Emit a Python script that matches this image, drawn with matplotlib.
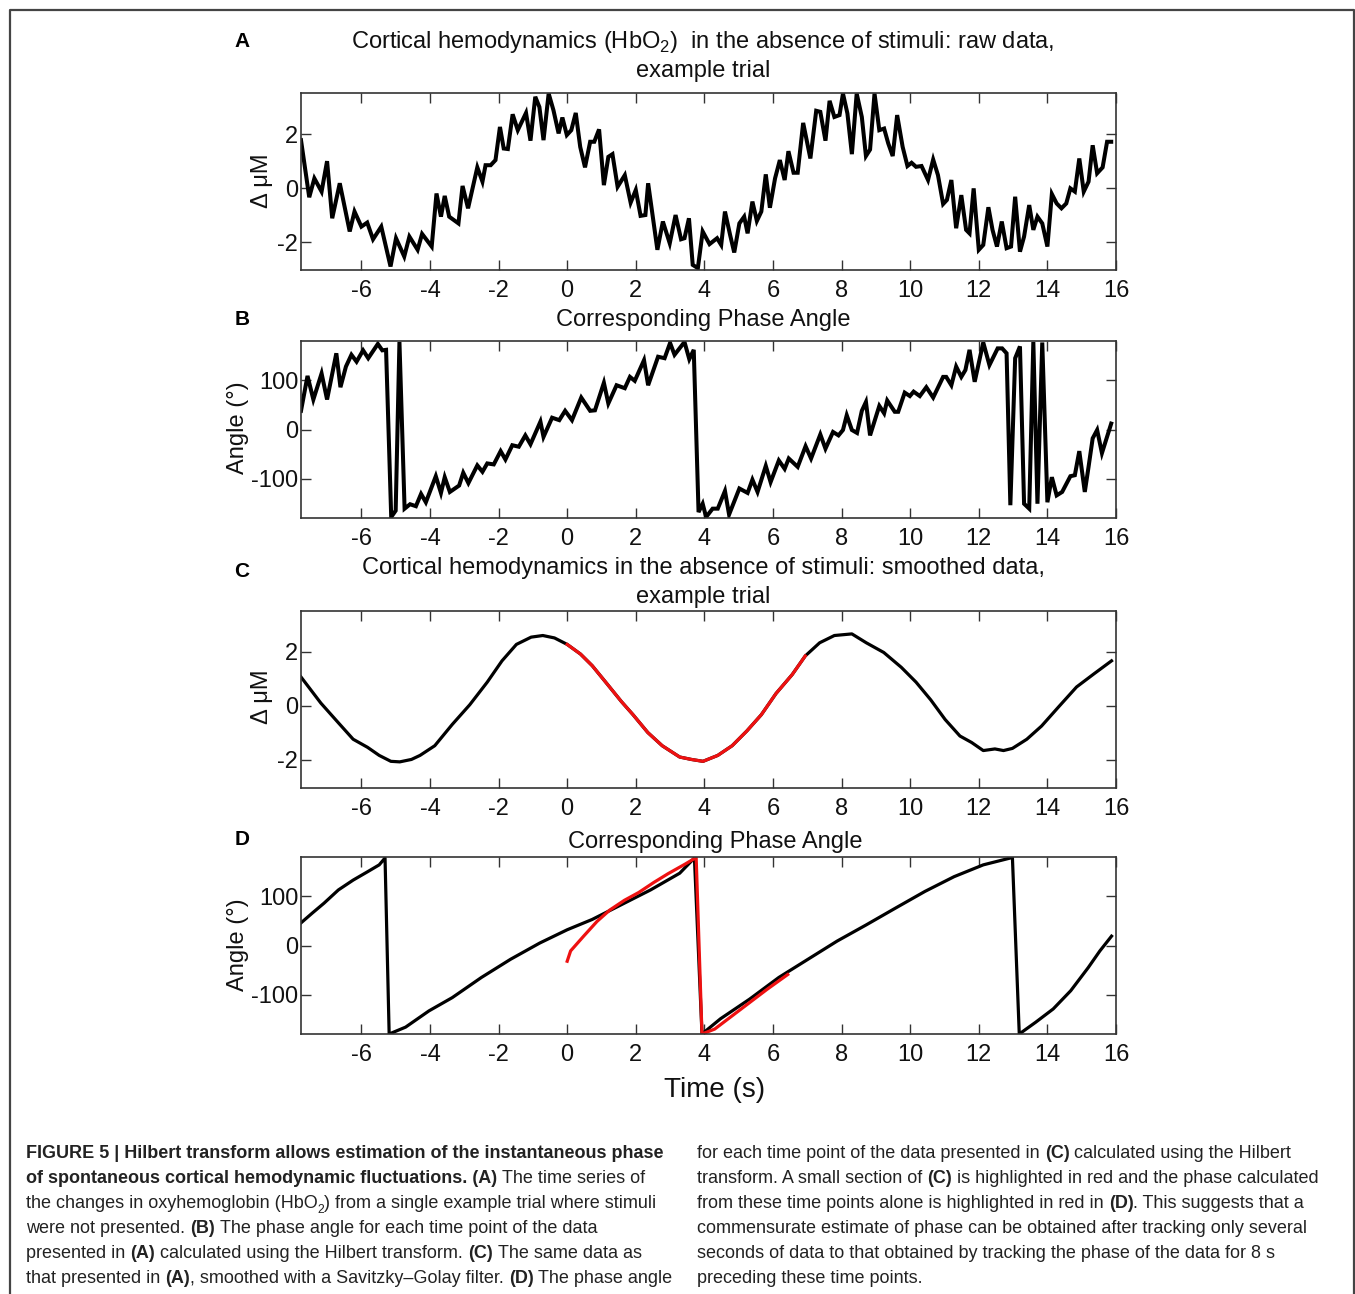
import matplotlib
matplotlib.use('Agg')
import matplotlib.pyplot as plt
from matplotlib.lines import Line2D

plt.rcParams['font.family'] = ['Liberation Sans', 'DejaVu Sans']
plt.rcParams['axes.unicode_minus'] = False
plt.rcParams['mathtext.fontset'] = 'custom'
plt.rcParams['mathtext.rm'] = 'Liberation Sans'

# (A) raw HbO2 trace: time (s), delta uM
raw_t = [-7.76, -7.52, -7.37, -7.16, -7.0, -6.85, -6.63, -6.34, -6.2, -6.0,
         -5.83, -5.66, -5.42, -5.15, -4.99, -4.75, -4.6, -4.36, -4.23, -3.95,
         -3.81, -3.68, -3.57, -3.44, -3.17, -3.05, -2.89, -2.62, -2.47, -2.38,
         -2.23, -2.09, -1.96, -1.85, -1.73, -1.59, -1.44, -1.2, -1.07, -0.93,
         -0.81, -0.69, -0.54, -0.4, -0.25, -0.14, -0.01, 0.12, 0.25, 0.38,
         0.52, 0.67, 0.79, 0.93, 1.07, 1.2, 1.32, 1.47, 1.68, 1.85,
         2.0, 2.14, 2.28, 2.36, 2.63, 2.79, 2.99, 3.16, 3.32, 3.42,
         3.55, 3.66, 3.81, 3.95, 4.15, 4.37, 4.49, 4.6, 4.75, 4.87,
         5.02, 5.16, 5.26, 5.4, 5.53, 5.66, 5.79, 5.91, 6.06, 6.2,
         6.34, 6.45, 6.6, 6.72, 6.88, 7.09, 7.26, 7.38, 7.53, 7.65,
         7.79, 7.94, 8.04, 8.17, 8.3, 8.44, 8.59, 8.71, 8.83, 8.96,
         9.1, 9.24, 9.36, 9.49, 9.62, 9.78, 9.92, 10.04, 10.17, 10.33,
         10.52, 10.67, 10.81, 10.96, 11.07, 11.2, 11.34, 11.49, 11.63, 11.73,
         11.85, 12.0, 12.13, 12.28, 12.4, 12.53, 12.67, 12.81, 12.94, 13.06,
         13.2, 13.32, 13.47, 13.59, 13.71, 13.85, 14.0, 14.13, 14.27, 14.41,
         14.55, 14.67, 14.8, 14.93, 15.06, 15.2, 15.32, 15.45, 15.61, 15.74,
         15.86]
raw_um = [1.79, -0.33, 0.37, -0.12, 1.01, -1.11, 0.19, -1.6, -0.86, -1.42,
          -1.27, -1.89, -1.42, -2.9, -1.85, -2.53, -1.79, -2.28, -1.69, -2.16,
          -0.19, -1.05, -0.28, -1.05, -1.3, 0.09, -0.74, 0.78, 0.25, 0.86,
          0.86, 1.05, 2.28, 1.48, 1.46, 2.75, 2.16, 2.8, 1.77, 3.4,
          3.02, 1.79, 3.52, 2.9, 2.04, 2.63, 1.98, 2.16, 2.8, 1.54,
          0.78, 1.73, 1.73, 2.19, 0.12, 1.17, 1.27, 0.06, 0.49, -0.53,
          -0.06, -1.02, -0.99, 0.19, -2.28, -1.23, -2.04, -0.99, -1.89, -1.85,
          -1.11, -2.84, -2.96, -1.6, -2.07, -1.85, -2.1, -0.86, -1.73, -2.38,
          -1.3, -1.05, -1.67, -0.49, -1.21, -0.86, 0.52, -0.72, 0.37, 1.05,
          0.31, 1.38, 0.58, 0.58, 2.43, 1.11, 2.88, 2.84, 1.77, 3.25,
          2.65, 2.72, 3.52, 2.78, 1.27, 3.52, 2.65, 1.2, 1.44, 3.52,
          2.16, 2.22, 1.67, 1.2, 2.72, 1.54, 0.83, 0.95, 0.8, 0.83,
          0.31, 1.07, 0.49, -0.58, -0.43, 0.31, -1.48, -0.25, -1.54, -1.67,
          0.0, -2.28, -2.1, -0.7, -1.54, -2.16, -1.23, -2.22, -2.16, -0.31,
          -2.35, -1.79, -0.62, -1.54, -1.05, -1.3, -2.16, -0.21, -0.56, -0.74,
          -0.56, 0.0, -0.12, 1.11, -0.12, 0.25, 1.6, 0.56, 0.78, 1.73,
          1.73]

# (B) phase of the raw trace (degrees)
raw_phase_t = [-7.76, -7.57, -7.4, -7.16, -7.0, -6.73, -6.61, -6.45, -6.29, -6.14,
               -5.95, -5.8, -5.52, -5.39, -5.28, -5.13, -5.0, -4.89, -4.74, -4.58,
               -4.41, -4.26, -4.12, -3.83, -3.68, -3.57, -3.42, -3.15, -3.03, -2.88,
               -2.62, -2.47, -2.33, -2.14, -1.94, -1.8, -1.6, -1.41, -1.22, -1.07,
               -0.78, -0.69, -0.44, -0.23, -0.06, 0.14, 0.41, 0.67, 0.81, 1.07,
               1.2, 1.44, 1.68, 1.83, 1.97, 2.24, 2.36, 2.65, 2.84, 3.0,
               3.13, 3.42, 3.56, 3.69, 3.83, 3.95, 4.05, 4.24, 4.39, 4.6,
               4.72, 5.02, 5.26, 5.4, 5.55, 5.79, 5.93, 6.17, 6.34, 6.46,
               6.72, 6.95, 7.11, 7.38, 7.53, 7.75, 7.91, 8.04, 8.15, 8.3,
               8.45, 8.59, 8.71, 8.83, 9.1, 9.24, 9.33, 9.55, 9.65, 9.84,
               9.99, 10.1, 10.28, 10.47, 10.67, 10.96, 11.05, 11.2, 11.34, 11.49,
               11.61, 11.73, 11.88, 12.13, 12.31, 12.55, 12.68, 12.81, 12.92, 13.06,
               13.2, 13.32, 13.47, 13.59, 13.71, 13.85, 14.0, 14.13, 14.27, 14.43,
               14.67, 14.8, 14.93, 15.09, 15.2, 15.32, 15.45, 15.59, 15.74, 15.86]
raw_phase = [38, 109, 61, 114, 61, 155, 86, 128, 152, 138,
             161, 145, 174, 161, 162, -178, -165, 178, -161, -152,
             -156, -131, -148, -95, -129, -97, -127, -114, -88, -109,
             -73, -86, -69, -71, -44, -61, -32, -35, -12, -30,
             16, -15, 24, 19, 38, 19, 65, 38, 39, 95,
             53, 90, 84, 107, 99, 141, 90, 148, 145, 176,
             152, 178, 143, 162, -168, -151, -178, -161, -161, -125,
             -173, -120, -129, -102, -127, -74, -107, -63, -80, -59,
             -76, -34, -59, -10, -39, -5, -12, -1, 29, -1,
             -7, 38, 56, -12, 48, 33, 59, 36, 36, 75,
             68, 77, 68, 86, 65, 107, 107, 90, 128, 107,
             121, 162, 97, 177, 131, 165, 165, 155, -154, 145,
             169, -151, -161, 178, -151, 177, -148, -97, -134, -127,
             -95, -93, -44, -127, -76, -18, -1, -48, -15, 12]

# (C) Savitzky-Golay smoothed trace
smooth_t = [-7.76, -7.18, -6.67, -6.24, -5.82, -5.48, -5.14, -4.88, -4.54, -4.29,
            -3.86, -3.35, -2.84, -2.33, -1.9, -1.48, -1.05, -0.71, -0.37, 0.0,
            0.39, 0.73, 1.16, 1.58, 1.92, 2.35, 2.77, 3.28, 3.62, 3.96,
            4.39, 4.81, 5.24, 5.66, 6.09, 6.56, 6.94, 7.36, 7.79, 8.3,
            8.72, 9.23, 9.74, 10.17, 10.6, 11.02, 11.45, 11.79, 12.13, 12.47,
            12.72, 12.98, 13.4, 13.83, 14.34, 14.85, 15.36, 15.87]
smooth_um = [1.07, 0.1, -0.63, -1.24, -1.54, -1.84, -2.06, -2.08, -1.99, -1.84,
             -1.48, -0.69, 0.04, 0.88, 1.67, 2.28, 2.55, 2.61, 2.52, 2.28,
             1.92, 1.49, 0.82, 0.16, -0.33, -0.99, -1.48, -1.9, -1.99, -2.06,
             -1.84, -1.48, -0.93, -0.33, 0.46, 1.16, 1.85, 2.34, 2.61, 2.67,
             2.34, 1.98, 1.43, 0.88, 0.22, -0.51, -1.12, -1.36, -1.66, -1.6,
             -1.66, -1.58, -1.24, -0.75, -0.02, 0.7, 1.19, 1.67]
# highlighted stretch of the smoothed trace (0 to 6.56 s)
hl_start, hl_stop = 19, 36

# (D) phase of the smoothed trace
smooth_phase_t = [-7.76, -7.43, -7.09, -6.67, -6.24, -5.82, -5.48, -5.31, -5.19, -4.71,
                  -4.03, -3.35, -2.5, -1.65, -0.8, 0.0, 0.73, 1.58, 2.43, 3.28,
                  3.71, 3.93, 4.47, 5.32, 6.17, 7.02, 7.87, 8.72, 9.57, 10.43,
                  11.28, 12.13, 12.98, 13.18, 13.66, 14.17, 14.68, 15.19, 15.53, 15.87]
smooth_phase = [46, 66, 86, 113, 133, 150, 164, 178, -180, -166,
                -133, -106, -65, -28, 5, 32, 53, 83, 113, 147,
                178, -180, -149, -109, -65, -28, 9, 42, 76, 110,
                140, 164, 179, -180, -156, -129, -92, -45, -11, 19]

# phase computed from the highlighted stretch only
hl_phase_t = [0.0, 0.1, 0.48, 0.87, 1.24, 1.67, 2.09, 2.52, 2.94, 3.45,
              3.76, 3.93, 4.3, 4.81, 5.32, 5.83, 6.43]
hl_phase = [-32, -11, 19, 49, 72, 92, 108, 128, 146, 166,
            179, -180, -170, -143, -116, -89, -59]

xticks = [-6, -4, -2, 0, 2, 4, 6, 8, 10, 12, 14, 16]

left_caption = [
    "**FIGURE 5 | Hilbert transform allows estimation of the instantaneous phase**",
    "**of spontaneous cortical hemodynamic fluctuations. (A)** The time series of",
    "the changes in oxyhemoglobin (HbO~2~) from a single example trial where stimuli",
    "were not presented. **(B)** The phase angle for each time point of the data",
    "presented in **(A)** calculated using the Hilbert transform. **(C)** The same data as",
    "that presented in **(A)**, smoothed with a Savitzky\u2013Golay filter. **(D)** The phase angle",
]
right_caption = [
    "for each time point of the data presented in **(C)** calculated using the Hilbert",
    "transform. A small section of **(C)** is highlighted in red and the phase calculated",
    "from these time points alone is highlighted in red in **(D)**. This suggests that a",
    "commensurate estimate of phase can be obtained after tracking only several",
    "seconds of data to that obtained by tracking the phase of the data for 8 s",
    "preceding these time points.",
]

W, H = 1355, 1294
fig = plt.figure(figsize=(W / 100, H / 100), dpi=100)
fig.patch.set_facecolor('white')


def fx(x):
    return x / W


def fy(y):
    return 1 - y / H


def panel(top, bottom, yticks, ylim):
    ax = fig.add_axes([fx(301), fy(bottom), (1116 - 301) / W, (bottom - top) / H])
    ax.set_xlim(-7.76, 15.87)
    ax.set_ylim(*ylim)
    ax.set_xticks(xticks)
    ax.set_yticks(yticks)
    ax.tick_params(direction='in', length=7, width=1, top=True, right=True,
                   labelsize=17, color='#333333', labelcolor='#111111')
    ax.tick_params(axis='x', pad=7.5)
    ax.tick_params(axis='y', pad=2)
    for s in ax.spines.values():
        s.set_linewidth(1.2)
        s.set_color('#333333')
    return ax


axA = panel(93, 270, [-2, 0, 2], (-3.03, 3.54))
axA.plot(raw_t, raw_um, color='black', lw=2.9, solid_joinstyle='miter')

axB = panel(341, 518, [-100, 0, 100], (-180, 180))
axB.plot(raw_phase_t, raw_phase, color='black', lw=2.9, solid_joinstyle='miter')

axC = panel(611, 788, [-2, 0, 2], (-3.05, 3.52))
axC.plot(smooth_t, smooth_um, color='black', lw=2.3)
axC.plot(smooth_t[hl_start:hl_stop + 1], smooth_um[hl_start:hl_stop + 1], color='#ee1111', lw=2.3)

axD = panel(857, 1034, [-100, 0, 100], (-180, 180))
axD.plot(smooth_phase_t, smooth_phase, color='black', lw=2.3)
axD.plot(hl_phase_t, hl_phase, color='#ee1111', lw=2.3)

# titles, panel letters and axis labels
title_kw = dict(fontsize=17, ha='center', va='baseline', color='#111111')
fig.text(fx(703), fy(48), 'Cortical hemodynamics (HbO$_2$)  in the absence of stimuli: raw data,', **title_kw)
fig.text(fx(703), fy(77), 'example trial', **title_kw)
fig.text(fx(703), fy(326), 'Corresponding Phase Angle', **title_kw)
fig.text(fx(703), fy(574), 'Cortical hemodynamics in the absence of stimuli: smoothed data,', **title_kw)
fig.text(fx(703), fy(603), 'example trial', **title_kw)
fig.text(fx(715), fy(848), 'Corresponding Phase Angle', **title_kw)

for letter, y in [('A', 47), ('B', 325), ('C', 577), ('D', 845)]:
    fig.text(fx(242), fy(y), letter, fontsize=15, fontweight='bold', ha='center', va='baseline')

ylab_kw = dict(fontsize=17, rotation=90, ha='center', va='center', color='#111111')
fig.text(fx(262), fy(181), '\u0394 \u03bcM', **ylab_kw)
fig.text(fx(238), fy(428), 'Angle (\u00b0)', **ylab_kw)
fig.text(fx(262), fy(697), '\u0394 \u03bcM', **ylab_kw)
fig.text(fx(238), fy(945), 'Angle (\u00b0)', **ylab_kw)

fig.text(fx(715), fy(1097), 'Time (s)', fontsize=20, ha='center', va='baseline', color='#111111')

# frame around the figure
fig.add_artist(Line2D([fx(9.5), fx(9.5), fx(1353.5), fx(1353.5)], [0, fy(9.5), fy(9.5), 0],
                      transform=fig.transFigure, color='#444444', lw=1.6))

# caption set in a narrow face with inline bold runs
cap_family = ['Liberation Sans Narrow', 'Liberation Sans']
cap_color = '#222222'
renderer = fig.canvas.get_renderer()


def text_width(s, size, weight):
    t = fig.text(0, 0, s, fontsize=size, fontweight=weight, family=cap_family)
    w = t.get_window_extent(renderer).width
    t.remove()
    return w


cap_size = 10 * 637 / text_width(left_caption[0].replace('**', ''), 10, 'bold')
space_w = {wt: text_width('x x', cap_size, wt) - text_width('xx', cap_size, wt)
           for wt in ('normal', 'bold')}


def put_line(x, y, line):
    for i, chunk in enumerate(line.split('**')):
        weight = 'bold' if i % 2 else 'normal'
        for j, seg in enumerate(chunk.split('~')):
            if not seg:
                continue
            sub = j % 2 == 1
            lead = len(seg) - len(seg.lstrip(' '))
            trail = len(seg) - len(seg.rstrip(' '))
            x += lead * space_w[weight]
            seg = seg.strip(' ')
            size = cap_size * 0.68 if sub else cap_size
            yy = y + (cap_size * 0.25 * 100 / 72 if sub else 0)
            t = fig.text(fx(x), fy(yy), seg, fontsize=size, fontweight=weight,
                         family=cap_family, color=cap_color, va='baseline', ha='left')
            x += t.get_window_extent(renderer).width
            x += trail * space_w[weight]


for k, line in enumerate(left_caption):
    put_line(26, 1158 + 25 * k, line)
for k, line in enumerate(right_caption):
    put_line(697, 1158 + 25 * k, line)

fig.savefig('out.png', dpi=100)
